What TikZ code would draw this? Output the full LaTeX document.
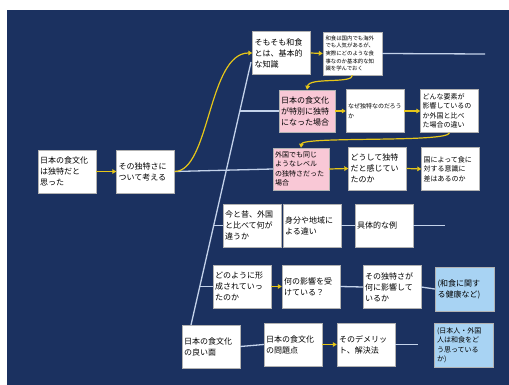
\documentclass[tikz,border=0pt]{standalone}
\usepackage{fontspec}
\setmainfont{Noto Sans CJK JP}
\usetikzlibrary{arrows.meta}
\definecolor{navy}{HTML}{1B3160}
\definecolor{pinkbox}{HTML}{F9C8D6}
\definecolor{bluebox}{HTML}{A8D3F3}
\definecolor{ylw}{HTML}{E6C619}
\definecolor{lnk}{HTML}{C3D2EA}
\tikzset{
  card/.style={rectangle, fill=white, draw=gray!60, line width=0.4pt,
    minimum width=58pt, minimum height=43pt, text width=54pt, inner sep=2pt,
    align=left, font=\fontsize{8}{11}\selectfont},
  pinkcard/.style={card, fill=pinkbox, minimum width=56pt, minimum height=42pt, text width=52pt},
  bluecard/.style={card, fill=bluebox, minimum width=59pt, minimum height=44pt},
  small/.style={font=\fontsize{7}{9.5}\selectfont},
  tiny/.style={font=\fontsize{5.4}{7.6}\selectfont},
  flow/.style={draw=ylw, line width=1.2pt, -{Triangle[length=4pt,width=4.5pt]}},
  link/.style={draw=lnk, line width=1.3pt}
}
\begin{document}
\begin{tikzpicture}[x=1pt,y=-1pt]
\useasboundingbox (0,0) rectangle (509,385);
\fill[white] (0,0) rectangle (509,385);
\fill[navy] (7,10) rectangle (509,385);

% nodes
\node[card] (A) at (67,171.5) {日本の食文化\\は独特だと\\思った};
\node[card] (B) at (145.5,171.5) {その独特さに\\ついて考える};
\node[card] (C) at (281.5,53) {そもそも和食\\とは、基本的\\な知識};
\node[card, tiny, minimum width=59pt] (D) at (352.5,53.5) {和食は国内でも海外\\でも人気があるが、\\実際にどのような食\\事なのか基本的な知\\識を学んでおく};
\node[pinkcard] (E) at (307,111) {日本の食文化\\が特別に独特\\になった場合};
\node[card, font=\fontsize{6}{10}\selectfont] (F) at (375,111) {なぜ独特なのだろう\\か};
\node[card, small] (G) at (449.5,111) {どんな要素が\\影響しているの\\か外国と比べ\\た場合の違い};
\node[pinkcard, small] (H) at (301,169) {外国でも同じ\\ようなレベル\\の独特さだった\\場合};
\node[card] (I) at (377.5,168.5) {どうして独特\\だと感じてい\\たのか};
\node[card, small] (J) at (450.5,169) {国によって食に\\対する意識に\\差はあるのか};
\node[card] (K) at (252,225.5) {今と昔、外国\\と比べて何が\\違うか};
\node[card] (L) at (312,225.5) {身分や地域に\\よる違い};
\node[card] (M) at (384,225.5) {具体的な例};
\node[card] (N) at (242,286.5) {どのように形\\成されていっ\\たのか};
\node[card] (O) at (311,286.5) {何の影響を受\\けている？};
\node[card] (P) at (392,287) {その独特さが\\何に影響して\\いるか};
\node[bluecard] (Q) at (464.5,289) {(和食に関す\\る健康など)};
\node[card] (R) at (211,346.5) {日本の食文化\\の良い面};
\node[card] (S) at (293,344.5) {日本の食文化\\の問題点};
\node[card] (T) at (366,344.5) {そのデメリッ\\ト、解決法};
\node[bluecard, small] (U) at (464,345) {(日本人・外国\\人は和食をど\\う思っている\\か)};

% coordinates for the trunk line and free ends
\coordinate (s1) at (191,325);
\coordinate (s2) at (251,62);
\coordinate (bE) at (240,111);
\coordinate (bK) at (212.5,225.5);
\coordinate (bN) at (200,286.5);
\coordinate (eD) at (485,54);
\coordinate (eM) at (445,225.5);
\coordinate (eT) at (418,344.5);

% light links
\draw[link] (s1) -- (s2);
\draw[link] (B.east) -- (H.west);
\draw[link] (bE) -- (E.west);
\draw[link] (bK) -- (K.west);
\draw[link] (bN) -- (N.west);
\draw[link] (D.east) -- (eD);
\draw[link] (L.east) -- (M.west);
\draw[link] (M.east) -- (eM);
\draw[link] (O.east) -- (P.west);
\draw[link] (P.east) -- (Q.west);
\draw[link] (R.east) -- (S.west);
\draw[link] (T.east) -- (eT);

% yellow flows
\draw[flow] (A.east) -- (B.west);
\draw[flow] (B.east) .. controls (210,171) and (208,53) .. (C.west);
\draw[flow] (C.east) -- (D.west);
\draw[flow] (D.south) .. controls (353,84) and (309,77) .. (E.north);
\draw[flow] (E.east) -- (F.west);
\draw[flow] (F.east) -- (G.west);
\draw[flow] (G.south) .. controls (449,143) and (302,136) .. (H.north);
\draw[flow] (H.east) -- (I.west);
\draw[flow] (I.east) -- (J.west);
\draw[flow] (N.east) -- (O.west);
\draw[flow] (S.east) -- (T.west);
\end{tikzpicture}
\end{document}
